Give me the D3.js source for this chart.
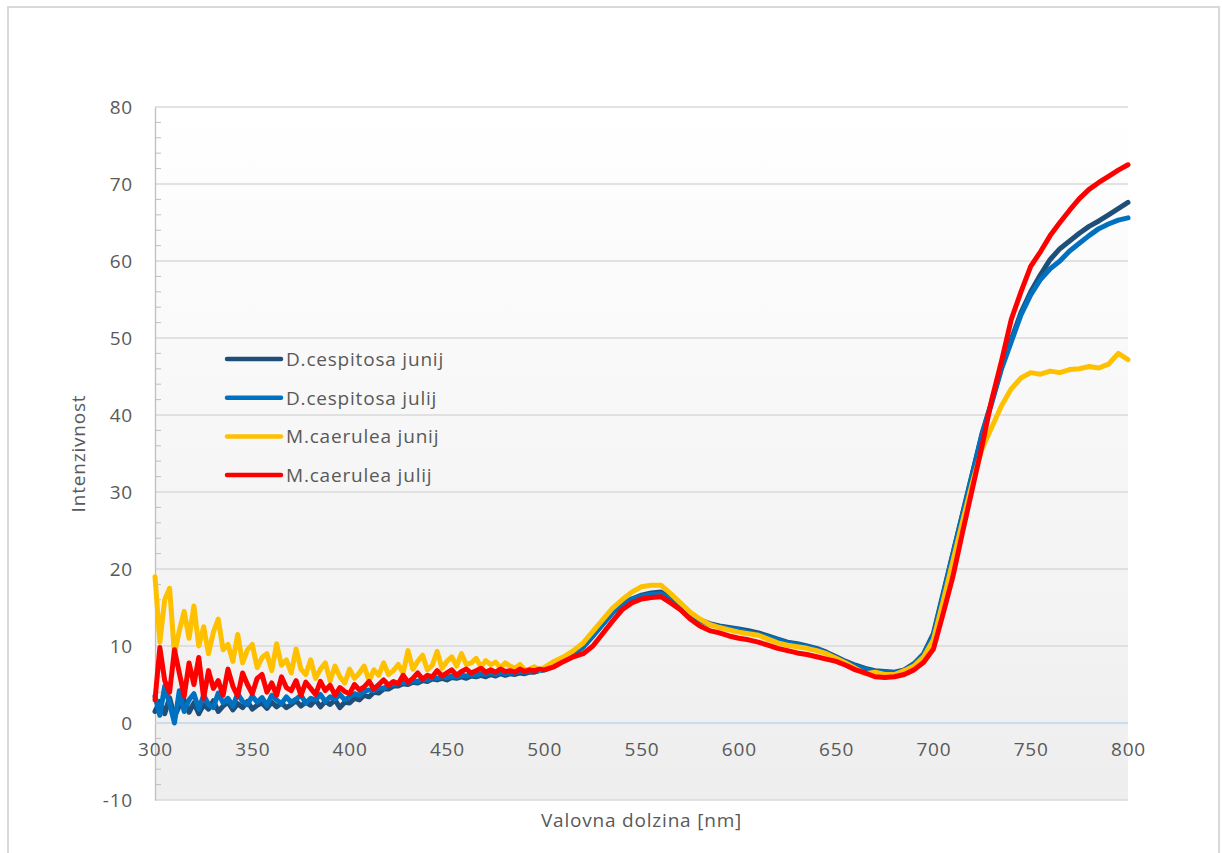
<!DOCTYPE html>
<html><head><meta charset="utf-8">
<script src="https://cdn.jsdelivr.net/npm/d3@7"></script>
<style>
body{margin:0;background:#fff;}
text{font-family:'Open Sans','Liberation Sans',sans-serif;fill:#595959;letter-spacing:0.8px;}
</style>
</head><body>
<svg id="chart" width="1222" height="853"></svg>
<script>
const seriesNames = ["D.cespitosa junij","D.cespitosa julij","M.caerulea junij","M.caerulea julij"];
const seriesColors = ["#1f4e79","#0070c0","#ffc000","#ff0000"];
const xTickValues = [300,350,400,450,500,550,600,650,700,750,800];
const yTickValues = [-10,0,10,20,30,40,50,60,70,80];
const xTitle = "Valovna dolzina [nm]";
const yTitle = "Intenzivnost";

// wavelengths: 2.5 nm step for 300-500, 5 nm step for 505-800
const wlLow = d3.range(300, 500.01, 2.5);
const wlHigh = d3.range(505, 800.01, 5);

const dcJunijLow = [1.5,2.8,1.2,3.3,0.8,2.2,3.0,1.4,2.6,1.2,
 2.4,1.8,2.9,1.5,2.2,2.7,1.7,2.5,2.0,2.8,
 1.8,2.3,2.6,1.9,2.7,2.1,2.6,2.0,2.4,2.9,
 2.2,2.7,2.3,3.0,2.1,2.8,2.4,3.0,2.0,2.7,
 2.6,3.2,3.0,3.6,3.4,4.0,3.9,4.4,4.4,4.8,
 4.8,5.1,5.0,5.3,5.2,5.5,5.4,5.7,5.6,5.8,
 5.6,5.9,5.8,6.0,5.8,6.1,6.0,6.2,6.0,6.3,
 6.1,6.4,6.2,6.4,6.3,6.5,6.4,6.6,6.6,6.8,
 6.9];
const dcJunijHigh = [7.4,8.1,8.9,9.9,11.3,12.8,14.3,15.4,16.1,16.6,
 16.9,17.0,16.3,15.2,14.1,13.4,12.9,12.6,12.4,12.2,
 12.0,11.7,11.3,10.9,10.5,10.3,10.0,9.7,9.2,8.6,
 8.0,7.5,7.1,6.8,6.7,6.6,6.9,7.7,9.0,11.6,
 16.8,22.0,27.2,32.4,37.6,41.8,46.2,49.8,53.3,56.0,
 58.2,60.2,61.6,62.6,63.6,64.5,65.2,66.0,66.8,67.6];

const dcJulijLow = [3.5,1.0,4.8,2.5,0.0,4.2,1.5,3.0,3.8,1.8,
 3.6,2.4,2.0,3.9,2.6,3.2,2.2,3.8,2.8,2.4,
 3.5,2.7,3.3,2.3,3.6,3.0,2.5,3.4,2.7,3.1,
 3.6,2.6,3.2,3.0,3.7,2.8,3.4,3.1,3.7,3.0,
 3.4,3.8,3.6,4.1,4.3,4.2,4.6,4.5,4.9,5.0,
 5.1,5.3,5.2,5.5,5.4,5.7,5.6,5.9,5.8,6.0,
 5.9,6.1,6.0,6.2,6.1,6.3,6.2,6.4,6.3,6.5,
 6.3,6.6,6.4,6.5,6.5,6.7,6.6,6.7,6.8,6.8,
 6.9];
const dcJulijHigh = [7.4,8.1,8.9,9.9,11.3,12.8,14.3,15.4,16.1,16.5,
 16.7,16.8,16.1,15.0,14.0,13.3,12.8,12.5,12.3,12.1,
 11.8,11.5,11.2,10.8,10.4,10.2,9.9,9.6,9.1,8.5,
 7.9,7.4,7.0,6.7,6.6,6.5,6.8,7.6,8.9,11.4,
 16.6,21.9,27.1,32.3,37.5,41.6,46.0,49.5,53.0,55.6,
 57.6,59.0,60.0,61.3,62.3,63.3,64.2,64.8,65.3,65.6];

const mcJunijLow = [19.0,10.5,16.0,17.5,9.0,12.0,14.5,11.0,15.2,10.0,
 12.5,9.0,11.8,13.5,9.5,10.2,8.0,11.5,7.8,9.5,
 10.2,7.2,8.5,9.0,6.8,10.3,7.5,8.2,6.5,9.6,
 7.0,6.3,8.2,5.8,7.0,7.8,5.5,7.4,6.0,5.2,
 7.0,5.8,6.5,7.4,5.5,6.9,6.2,7.8,6.3,6.8,
 7.6,6.5,9.4,7.0,8.0,8.8,6.9,7.5,9.3,7.1,
 8.0,8.6,7.4,9.0,7.6,7.8,8.4,7.3,8.1,7.6,
 7.9,7.2,7.8,7.4,7.1,7.6,6.9,7.0,7.3,6.9,
 7.2];
const mcJunijHigh = [8.0,8.6,9.4,10.4,11.9,13.4,14.9,16.0,17.0,17.7,
 17.9,17.9,16.8,15.6,14.4,13.5,12.8,12.4,12.1,11.8,
 11.6,11.4,10.9,10.4,10.1,9.9,9.7,9.4,9.0,8.4,
 7.8,7.1,6.4,6.6,6.3,6.3,6.8,7.4,8.6,10.8,
 15.8,21.0,26.2,31.2,35.6,38.4,41.2,43.4,44.8,45.5,
 45.3,45.7,45.5,45.9,46.0,46.3,46.1,46.6,48.0,47.2];

const mcJulijLow = [3.0,9.8,5.5,4.0,9.5,6.5,3.5,7.8,5.0,8.5,
 3.2,6.8,4.5,5.5,3.6,7.0,4.8,3.5,6.5,5.0,
 3.8,5.8,6.3,4.0,5.2,3.6,6.0,4.6,4.2,5.5,
 3.6,5.3,4.5,3.7,5.4,4.2,4.9,3.6,4.6,4.1,
 3.8,5.0,4.3,4.7,5.4,4.4,5.0,5.6,4.9,5.4,
 5.1,6.2,5.3,5.8,6.5,5.7,6.2,6.0,6.8,6.1,
 6.5,6.9,6.2,6.7,7.0,6.5,6.8,7.1,6.6,6.9,
 6.6,7.0,6.7,6.8,6.6,7.0,6.7,6.9,6.8,7.0,
 6.9];
const mcJulijHigh = [7.3,8.0,8.6,9.0,10.0,11.6,13.2,14.7,15.6,16.1,
 16.3,16.4,15.6,14.7,13.5,12.6,12.0,11.7,11.3,11.0,
 10.8,10.5,10.1,9.7,9.4,9.1,8.9,8.6,8.3,8.0,
 7.5,6.9,6.5,6.0,5.9,6.0,6.3,6.9,7.9,9.6,
 14.2,19.0,24.8,30.4,36.0,42.0,47.0,52.4,56.0,59.3,
 61.2,63.3,65.0,66.6,68.1,69.3,70.2,71.0,71.8,72.5];

const wavelengths = wlLow.concat(wlHigh);
const seriesValues = [
  dcJunijLow.concat(dcJunijHigh),
  dcJulijLow.concat(dcJulijHigh),
  mcJunijLow.concat(mcJunijHigh),
  mcJulijLow.concat(mcJulijHigh)
];

const FONT = "'Open Sans','Liberation Sans',sans-serif";
const FS = 19;
const svg = d3.select("#chart");
const L = 155, R = 1128, T = 107, B = 800;
const x = d3.scaleLinear().domain([300,800]).range([L,R]);
const y = d3.scaleLinear().domain([-10,80]).range([B,T]);

// outer border
svg.append("rect").attr("x",8).attr("y",7).attr("width",1211).attr("height",860)
  .attr("fill","#fff").attr("stroke","#d9d9d9").attr("stroke-width",2);

// plot background gradient
const defs = svg.append("defs");
const g = defs.append("linearGradient").attr("id","bg").attr("x1",0).attr("y1",0).attr("x2",0).attr("y2",1);
g.append("stop").attr("offset","0%").attr("stop-color","#ffffff");
g.append("stop").attr("offset","100%").attr("stop-color","#eeeeee");
svg.append("rect").attr("x",L).attr("y",T).attr("width",R-L).attr("height",B-T).attr("fill","url(#bg)");

// gridlines
svg.append("g").selectAll("line").data(yTickValues.filter(v=>v!==0 && v!==-10)).join("line")
  .attr("x1",L).attr("x2",R).attr("y1",d=>y(d)).attr("y2",d=>y(d))
  .attr("stroke","#d9d9d9").attr("stroke-width",1.3);
svg.append("line").attr("x1",L).attr("x2",R).attr("y1",B).attr("y2",B).attr("stroke","#d9d9d9").attr("stroke-width",1.5);

// y axis
const yAxis = d3.axisLeft(y).tickValues(yTickValues).tickSize(0).tickPadding(22).tickFormat(d=>String(d));
const yg = svg.append("g").attr("transform",`translate(${L},0)`).call(yAxis);
yg.select(".domain").attr("stroke","#bfbfbf").attr("stroke-width",1.3);
yg.selectAll("text").attr("font-size",FS).attr("fill","#595959").style("font-family",FONT);
// minor ticks
const minor = d3.range(-10,80.01,2).filter(v=>v%10!==0);
svg.append("g").selectAll("line").data(minor).join("line")
  .attr("x1",L).attr("x2",L+6).attr("y1",d=>y(d)).attr("y2",d=>y(d))
  .attr("stroke","#bfbfbf").attr("stroke-width",1);

// zero line
svg.append("line").attr("x1",L).attr("x2",R).attr("y1",y(0)).attr("y2",y(0))
  .attr("stroke","#bdd7ee").attr("stroke-width",1.3);

// x axis labels (below zero line)
const xAxis = d3.axisBottom(x).tickValues(xTickValues).tickSize(0).tickPadding(20).tickFormat(d=>String(d));
const xg = svg.append("g").attr("transform",`translate(0,${y(0)})`).call(xAxis);
xg.select(".domain").remove();
xg.selectAll("text").attr("font-size",FS).attr("fill","#595959").style("font-family",FONT);

// lines
const line = d3.line().x((d,i)=>x(wavelengths[i])).y(d=>y(d));
svg.append("g").selectAll("path").data(seriesValues).join("path")
  .attr("d",d=>line(d)).attr("fill","none")
  .attr("stroke",(d,i)=>seriesColors[i]).attr("stroke-width",5)
  .attr("stroke-linejoin","round").attr("stroke-linecap","round");

// legend
const lg = svg.append("g");
seriesNames.forEach((n,i)=>{
  const yy = 359 + i*38.7;
  lg.append("line").attr("x1",227).attr("x2",281).attr("y1",yy).attr("y2",yy)
    .attr("stroke",seriesColors[i]).attr("stroke-width",4.5).attr("stroke-linecap","round");
  lg.append("text").attr("x",286).attr("y",yy+7).attr("font-size",FS).text(n);
});

// titles
svg.append("text").attr("x",(L+R)/2).attr("y",827).attr("text-anchor","middle").attr("font-size",FS).text(xTitle);
svg.append("text").attr("transform",`translate(85,${(T+B)/2}) rotate(-90)`).attr("text-anchor","middle").attr("font-size",FS).text(yTitle);
</script>
</body></html>
